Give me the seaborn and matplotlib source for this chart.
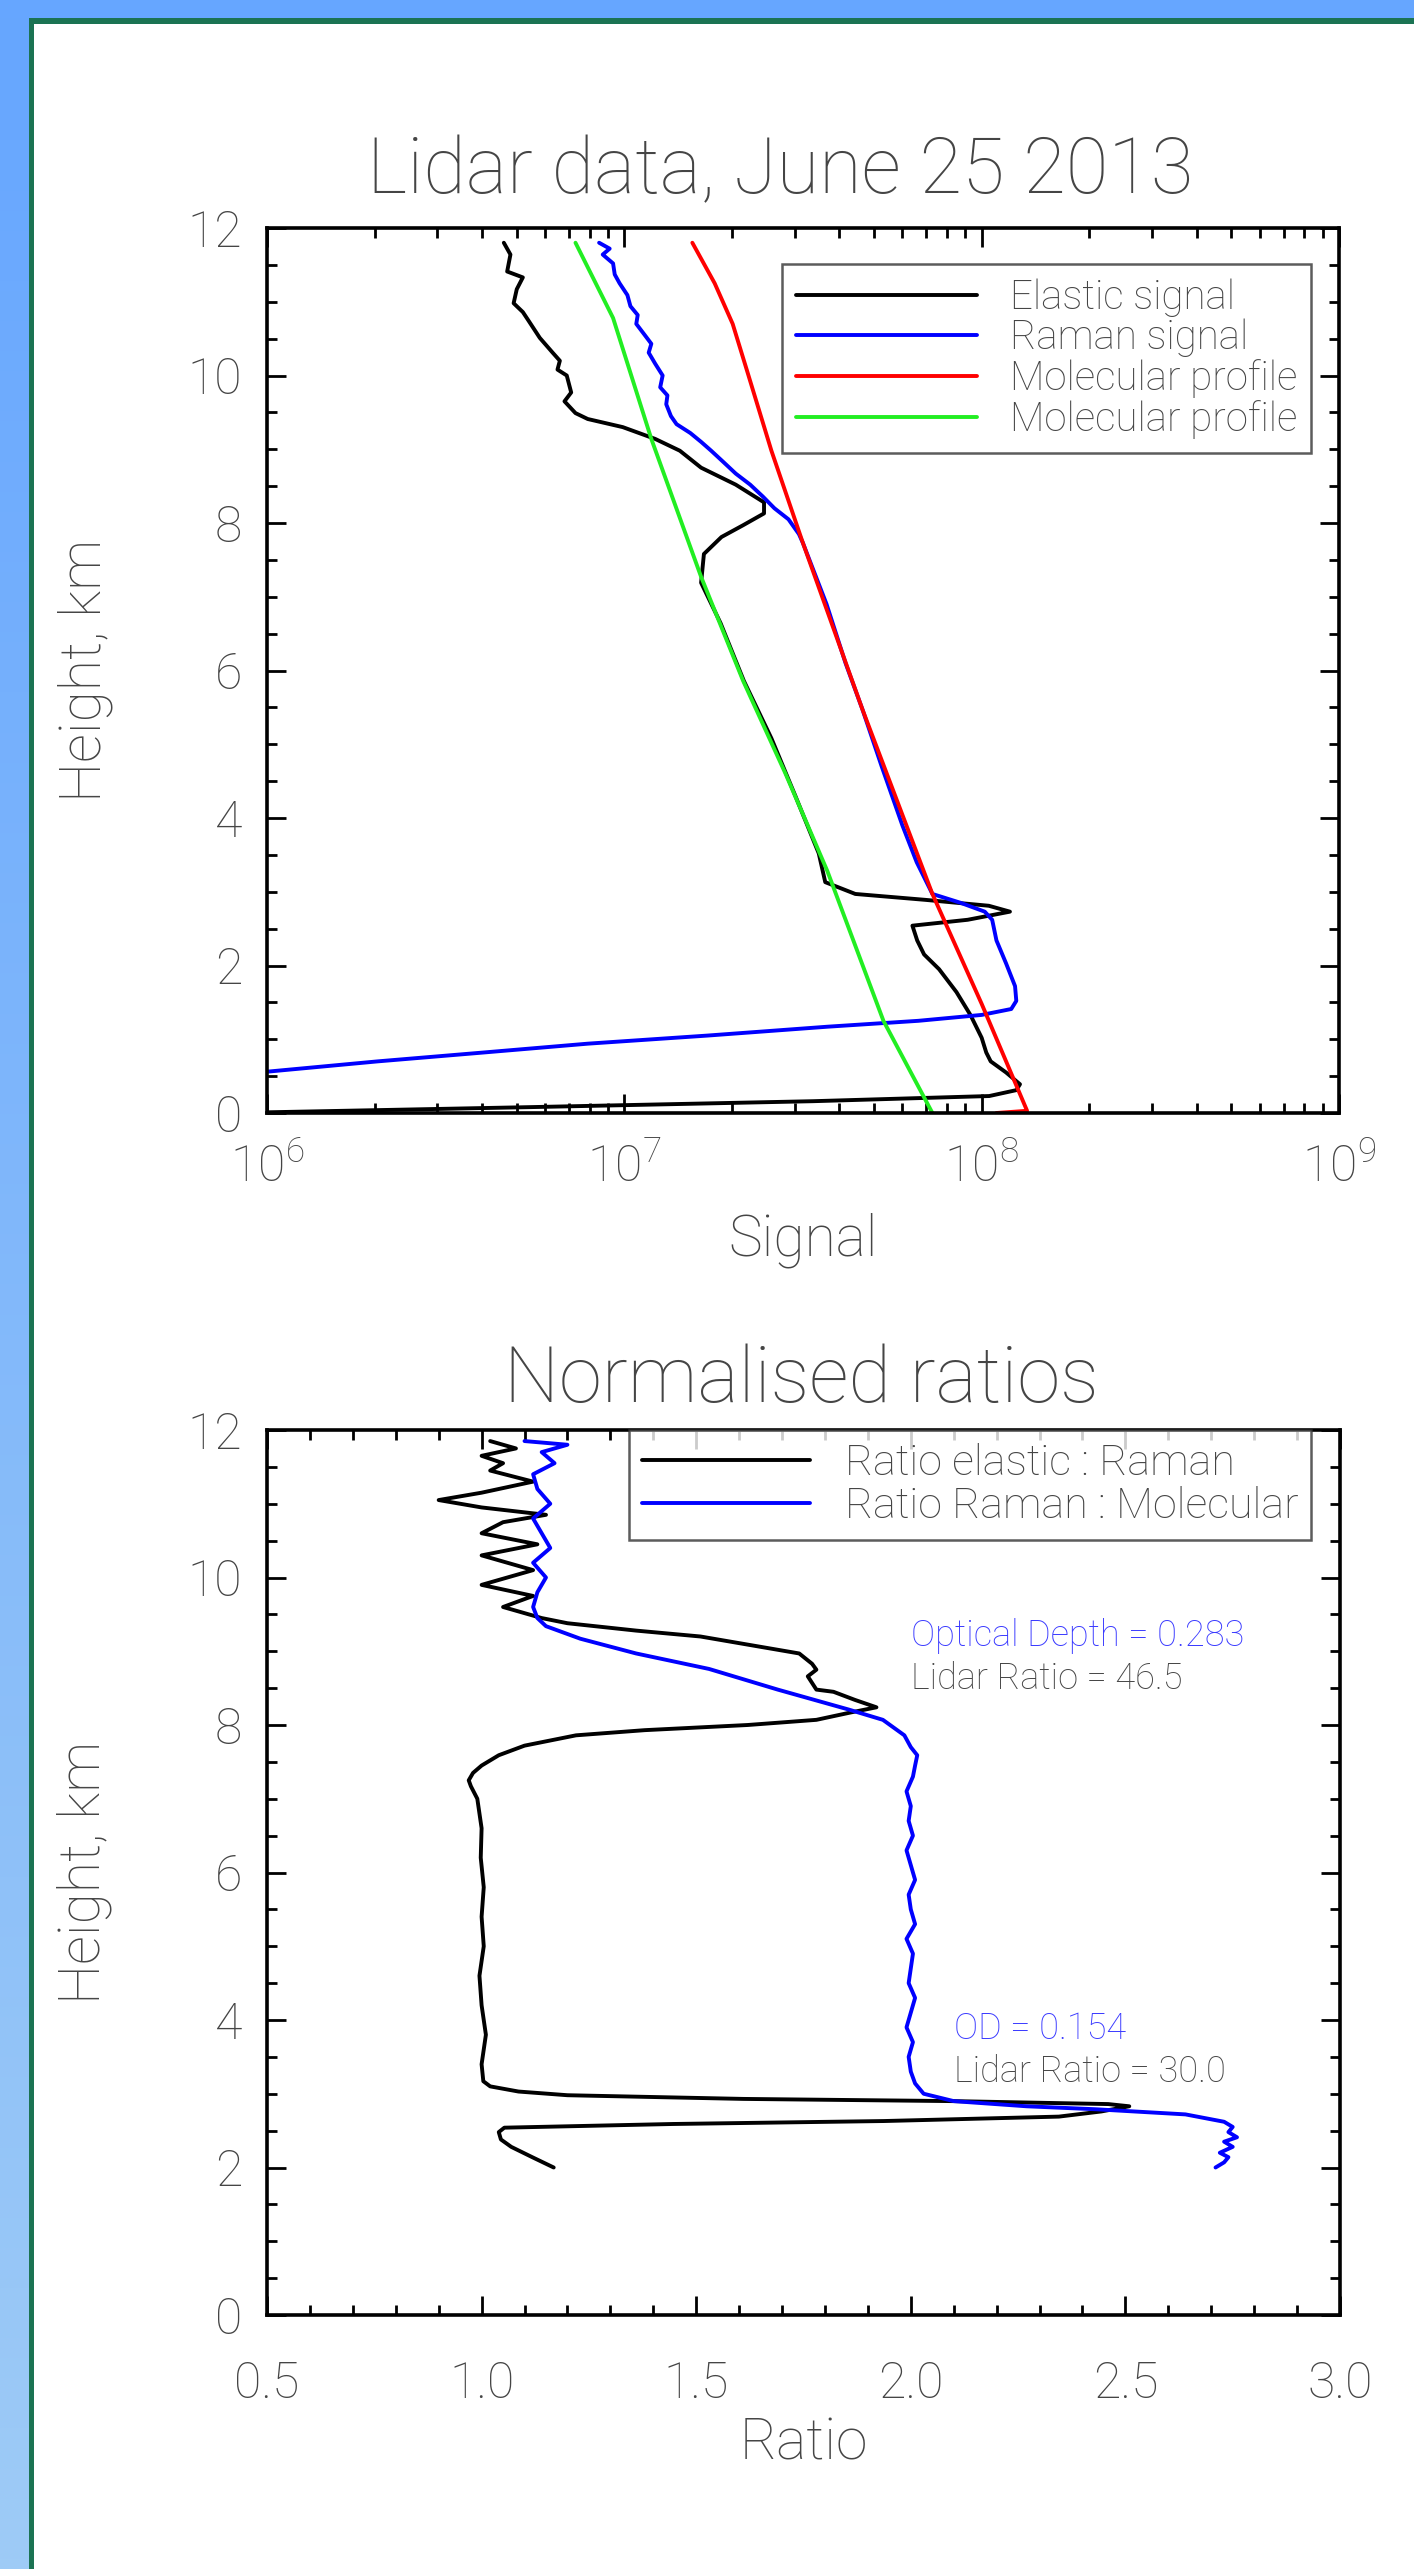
import matplotlib
matplotlib.use("agg")
import matplotlib.pyplot as plt
import matplotlib.ticker as mticker
from matplotlib.colors import LinearSegmentedColormap
from matplotlib.patches import Rectangle
import numpy as np
import seaborn as sns

# ---------------- top panel: lidar signals (x in units of 1e6) ----------------
elastic_km = [11.80, 11.64, 11.41, 11.33, 11.17, 10.98, 10.86, 10.74, 10.51, 10.31,
              10.20, 10.08, 10.00, 9.77, 9.65, 9.49, 9.41, 9.30, 9.14, 8.98,
              8.75, 8.52, 8.28, 8.13, 7.97, 7.81, 7.58, 7.19, 6.64, 5.86,
              5.08, 4.30, 3.52, 3.13, 2.97, 2.89, 2.81, 2.73, 2.62, 2.54,
              2.34, 2.15, 1.95, 1.64, 1.33, 1.02, 0.82, 0.70, 0.55, 0.39,
              0.31, 0.23, 0.16, 0.08, 0.00]
elastic_sig = [4.6, 4.8, 4.7, 5.2, 5.0, 4.9, 5.2, 5.4, 5.8, 6.3,
               6.6, 6.5, 6.9, 7.1, 6.8, 7.3, 7.9, 9.9, 12.2, 14.3,
               16.4, 20.5, 24.6, 24.6, 21.5, 18.7, 16.7, 16.4, 18.6, 21.6,
               25.8, 30.1, 35.0, 36.5, 44.3, 69.6, 104.7, 120.0, 91.4, 64.0,
               66.0, 69.0, 76.0, 85.0, 93.0, 100.0, 103.0, 106.0, 117.0, 128.0,
               125.0, 105.0, 33.7, 5.5, 0.8]

raman_km = [11.80, 11.72, 11.64, 11.52, 11.37, 11.25, 11.09, 10.94, 10.82, 10.70,
            10.55, 10.43, 10.31, 10.16, 10.00, 9.84, 9.73, 9.61, 9.45, 9.34,
            9.22, 9.10, 8.98, 8.83, 8.67, 8.52, 8.36, 8.20, 8.05, 7.85,
            7.73, 6.90, 6.10, 5.47, 4.70, 3.90, 3.40, 2.97, 2.85, 2.73,
            2.62, 2.34, 2.03, 1.72, 1.52, 1.41, 1.33, 1.25, 1.17, 1.05,
            0.94, 0.82, 0.70, 0.56, 0.50]
raman_sig = [8.5, 9.1, 8.7, 9.3, 9.4, 9.7, 10.2, 10.4, 10.9, 10.8,
             11.4, 11.9, 11.7, 12.2, 12.8, 12.6, 13.2, 13.1, 13.5, 14.0,
             15.3, 16.4, 17.5, 18.9, 20.5, 22.5, 24.4, 26.3, 28.8, 30.8,
             31.6, 36.8, 41.6, 46.4, 52.5, 60.0, 65.8, 72.8, 87.3, 102.0,
             107.0, 110.0, 117.0, 124.0, 125.0, 121.0, 100.0, 66.5, 37.0, 17.1,
             7.9, 4.03, 2.04, 1.0, 0.8]

mol_red_km = [11.80, 11.25, 10.70, 10.08, 8.98, 7.73, 5.47, 2.97, 1.48, 0.03, 0.00]
mol_red_sig = [15.5, 17.9, 20.1, 22.0, 25.8, 31.6, 46.4, 72.8, 100.0, 134.0, 110.0]

mol_green_km = [11.80, 10.78, 9.14, 7.27, 5.86, 4.61, 3.28, 1.25, 0.00]
mol_green_sig = [7.3, 9.3, 11.9, 16.4, 21.5, 28.2, 37.0, 53.1, 72.8]

# ---------------- bottom panel: normalised ratios ----------------
ratio_er_km = [2.00, 2.14, 2.28, 2.38, 2.48, 2.54, 2.59, 2.63, 2.69, 2.76,
               2.83, 2.86, 2.90, 2.93, 2.98, 3.03, 3.10, 3.17, 3.40, 3.80,
               4.20, 4.60, 5.00, 5.40, 5.80, 6.20, 6.60, 7.00, 7.17, 7.25,
               7.35, 7.45, 7.59, 7.72, 7.86, 7.93, 8.00, 8.07, 8.17, 8.24,
               8.34, 8.45, 8.48, 8.57, 8.66, 8.75, 8.83, 8.97, 9.10, 9.20,
               9.28, 9.38, 9.45, 9.60, 9.75, 9.90, 10.10, 10.30, 10.45, 10.60,
               10.75, 10.85, 10.95, 11.05, 11.15, 11.30, 11.45, 11.55, 11.65, 11.75,
               11.85]
ratio_er = [1.168, 1.118, 1.069, 1.045, 1.040, 1.053, 1.446, 1.937, 2.345, 2.444,
            2.509, 2.460, 2.100, 1.610, 1.200, 1.086, 1.020, 1.004, 1.000, 1.010,
            1.000, 0.995, 1.005, 1.000, 1.005, 0.998, 1.000, 0.990, 0.975, 0.970,
            0.980, 1.000, 1.040, 1.100, 1.220, 1.380, 1.620, 1.780, 1.860, 1.920,
            1.870, 1.820, 1.780, 1.770, 1.760, 1.780, 1.770, 1.740, 1.610, 1.510,
            1.360, 1.200, 1.140, 1.050, 1.120, 1.000, 1.120, 1.000, 1.130, 1.000,
            1.050, 1.150, 1.000, 0.900, 1.000, 1.120, 1.020, 1.050, 1.000, 1.080,
            1.020]

ratio_rm_km = [2.00, 2.07, 2.14, 2.20, 2.28, 2.35, 2.41, 2.48, 2.55, 2.62,
               2.72, 2.79, 2.83, 2.90, 3.00, 3.14, 3.30, 3.50, 3.70, 3.90,
               4.10, 4.30, 4.50, 4.70, 4.90, 5.10, 5.30, 5.50, 5.70, 5.90,
               6.10, 6.30, 6.50, 6.70, 6.90, 7.10, 7.30, 7.45, 7.59, 7.70,
               7.86, 8.07, 8.21, 8.48, 8.76, 8.97, 9.17, 9.34, 9.45, 9.60,
               9.80, 10.00, 10.20, 10.40, 10.60, 10.80, 11.00, 11.20, 11.40, 11.55,
               11.70, 11.80, 11.85]
ratio_rm = [2.710, 2.730, 2.740, 2.720, 2.750, 2.730, 2.760, 2.740, 2.750, 2.730,
            2.640, 2.430, 2.270, 2.100, 2.030, 2.010, 2.000, 1.995, 2.005, 1.990,
            2.000, 2.010, 1.995, 2.000, 2.005, 1.990, 2.010, 2.000, 1.995, 2.010,
            2.000, 1.990, 2.005, 1.995, 2.000, 1.990, 2.005, 2.010, 2.015, 2.000,
            1.985, 1.935, 1.855, 1.690, 1.530, 1.360, 1.230, 1.150, 1.130, 1.120,
            1.130, 1.150, 1.120, 1.160, 1.140, 1.120, 1.160, 1.130, 1.120, 1.170,
            1.140, 1.200, 1.100]

W, H = 1414, 2569
FONT = ["Roboto", "DejaVu Sans"]
GREY = "#454545"

sns.set_theme(style="white")
plt.rcParams["font.family"] = FONT
plt.rcParams["font.weight"] = "light"
plt.rcParams["axes.labelweight"] = "light"

fig = plt.figure(figsize=(W / 100, H / 100), dpi=100)
fig.patch.set_facecolor("white")

# page decoration: blue band on top/left and green frame line
band = fig.add_axes([0, 0, 29 / W, 1])
cmap = LinearSegmentedColormap.from_list("band", ["#66a6ff", "#9ecbf6"])
band.imshow(np.linspace(0, 1, 256)[:, None], cmap=cmap, aspect="auto",
            extent=[0, 1, 0, 1], origin="upper")
band.axis("off")
fig.add_artist(Rectangle((0, 1 - 18 / H), 1, 18 / H, transform=fig.transFigure,
                         color="#66a6ff", lw=0))
fig.add_artist(Rectangle((29 / W, 1 - 24 / H), 1, 6 / H, transform=fig.transFigure,
                         color="#1b7353", lw=0))
fig.add_artist(Rectangle((29 / W, 0), 5 / W, 1 - 18 / H, transform=fig.transFigure,
                         color="#1b7353", lw=0))

ax1 = fig.add_axes([267 / W, 1 - 1113 / H, 1072 / W, 885 / H])
ax2 = fig.add_axes([267 / W, 1 - 2315 / H, 1073 / W, 885 / H])

LW = 2.8
kw = dict(sort=False, estimator=None, lw=LW, orient="y")
sns.lineplot(x=np.array(elastic_sig) * 1e6, y=elastic_km, ax=ax1, color="black",
             label="Elastic signal", **kw)
sns.lineplot(x=np.array(raman_sig) * 1e6, y=raman_km, ax=ax1, color="#0000ff",
             label="Raman signal", **kw)
sns.lineplot(x=np.array(mol_red_sig) * 1e6, y=mol_red_km, ax=ax1, color="#ff0000",
             label="Molecular profile", **kw)
sns.lineplot(x=np.array(mol_green_sig) * 1e6, y=mol_green_km, ax=ax1, color="#22ee22",
             label="Molecular profile", **kw)

sns.lineplot(x=ratio_er, y=ratio_er_km, ax=ax2, color="black",
             label="Ratio elastic : Raman", **kw)
sns.lineplot(x=ratio_rm, y=ratio_rm_km, ax=ax2, color="#0000ff",
             label="Ratio Raman : Molecular", **kw)

ax1.set_xscale("log")
ax1.set_xlim(1e6, 1e9)
ax1.xaxis.set_major_locator(mticker.LogLocator(base=10, numticks=10))
ax1.xaxis.set_minor_locator(mticker.LogLocator(base=10, subs=np.arange(2, 10), numticks=10))
ax1.xaxis.set_major_formatter(mticker.LogFormatterMathtext())
ax1.xaxis.set_minor_formatter(mticker.NullFormatter())

ax2.set_xlim(0.5, 3.0)
ax2.xaxis.set_major_locator(mticker.MultipleLocator(0.5))
ax2.xaxis.set_minor_locator(mticker.MultipleLocator(0.1))
ax2.xaxis.set_major_formatter(mticker.FormatStrFormatter("%.1f"))

for ax, xlab, xpad in ((ax1, "Signal", 22), (ax2, "Ratio", 33)):
    ax.set_ylim(0, 12)
    ax.yaxis.set_major_locator(mticker.MultipleLocator(2))
    ax.yaxis.set_minor_locator(mticker.MultipleLocator(0.5))
    ax.tick_params(which="both", direction="in", top=True, right=True,
                   bottom=True, left=True,
                   color="black", labelcolor=GREY, labelsize=36)
    ax.tick_params(which="major", length=14, width=2.0)
    ax.tick_params(which="minor", length=7.5, width=2.0)
    ax.tick_params(axis="y", pad=18)
    ax.tick_params(axis="x", pad=xpad)
    ax.set_xlabel(xlab, fontsize=41, color=GREY, fontweight="light")
    ax.set_ylabel("Height, km", fontsize=41, color=GREY, fontweight="light")
    ax.xaxis.label.set_va("center")
    ax.yaxis.label.set_va("center")
    ax.yaxis.set_label_coords(-0.170, 0.5)
    ax.set_facecolor("white")
    for s in ax.spines.values():
        s.set_visible(True)
        s.set_color("black")
        s.set_linewidth(2.6)

ax1.xaxis.set_label_coords(0.5, -0.1435)
ax2.xaxis.set_label_coords(0.5, -0.146)

leg1 = ax1.legend(loc="upper right", bbox_to_anchor=(0.974, 0.959), borderaxespad=0,
                  fontsize=29, frameon=True, fancybox=False, edgecolor="#333333",
                  handlelength=4.5, handletextpad=0.8, labelspacing=0.05,
                  borderpad=0.35, labelcolor=GREY)
leg1.get_frame().set_linewidth(1.8)
leg2 = ax2.legend(loc="upper right", bbox_to_anchor=(0.973, 1.0), borderaxespad=0,
                  fontsize=31, frameon=True, fancybox=False, edgecolor="#333333",
                  handlelength=3.9, handletextpad=0.8, labelspacing=0.05,
                  borderpad=0.3, labelcolor=GREY)
leg2.get_frame().set_linewidth(1.8)

ann = dict(fontsize=26, va="center", ha="left")
ax2.text(2.0, 9.21, "Optical Depth = 0.283", color="#3a3aff", **ann)
ax2.text(2.0, 8.62, "Lidar Ratio = 46.5", color=GREY, **ann)
ax2.text(2.10, 3.88, "OD = 0.154", color="#3a3aff", **ann)
ax2.text(2.10, 3.29, "Lidar Ratio = 30.0", color=GREY, **ann)

fig.text(780 / W, 1 - 172 / H, "Lidar data, June 25 2013", fontsize=56,
         color=GREY, ha="center", va="center")
fig.text(801 / W, 1 - 1381 / H, "Normalised ratios", fontsize=56,
         color=GREY, ha="center", va="center")

fig.savefig("out.png", dpi=100)
